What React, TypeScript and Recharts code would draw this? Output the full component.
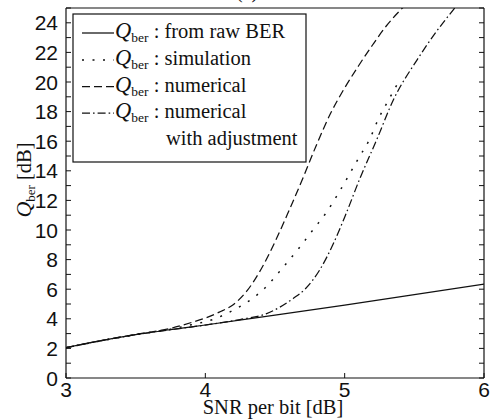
import React from 'react';
import { LineChart, Line, XAxis, YAxis } from 'recharts';

// SNR per bit [dB] / Q_ber [dB] readings
const snrRaw = [3, 3.25, 3.5, 3.75, 4, 4.5, 5, 5.5, 6];
const qRaw = [2.05, 2.52, 2.93, 3.27, 3.58, 4.25, 4.93, 5.63, 6.35];

const snrSim = [3, 3.5, 3.75, 3.9, 4.05, 4.2, 4.32, 4.44, 4.54, 4.68, 4.78, 4.87, 4.95, 5.03, 5.1, 5.18, 5.24, 5.31, 5.39];
const qSim = [2.05, 2.93, 3.3, 3.6, 3.94, 4.58, 5.25, 6.2, 7.28, 8.87, 10.1, 11.2, 12.4, 13.7, 14.86, 16.15, 17.46, 18.7, 20.05];

const snrNum = [3, 3.25, 3.5, 3.75, 3.9, 4.0, 4.1, 4.2, 4.3, 4.4, 4.5, 4.6, 4.7, 4.8, 4.9, 5.0, 5.1, 5.2, 5.3, 5.42];
const qNum = [2.05, 2.52, 2.95, 3.35, 3.75, 4.05, 4.45, 4.95, 5.9, 7.35, 9.2, 11.3, 13.5, 15.8, 17.9, 19.6, 21.1, 22.5, 23.8, 25.05];

const snrAdj = [3, 3.5, 4.0, 4.25, 4.44, 4.63, 4.72, 4.82, 4.92, 5.01, 5.11, 5.23, 5.35, 5.52, 5.65, 5.79];
const qAdj = [2.05, 2.93, 3.58, 3.95, 4.35, 5.37, 6.05, 7.29, 9.1, 11.1, 13.5, 16.1, 18.8, 21.5, 23.3, 25.0];

const xTicks = [3, 4, 5, 6];
const yTicks = Array.from({ length: 26 }, (_, i) => i);
const yLabelTicks = [0, 2, 4, 6, 8, 10, 12, 14, 16, 18, 20, 22, 24];

const legendTexts = ['from raw BER', 'simulation', 'numerical', 'numerical'];
const legendExtra = 'with adjustment';

const zip = (xs: number[], ys: number[]) => xs.map((x, i) => ({ x, y: ys[i] }));

const SANS = '"Liberation Sans", Arial, sans-serif';
const SERIF = '"Liberation Serif", "Times New Roman", serif';
const INK = '#111';

const LeftTick = (p: any) => {
  const { x, y, payload } = p;
  const v = payload.value;
  return (
    <g>
      <line x1={x} y1={y} x2={x + 5} y2={y} stroke={INK} strokeWidth={1} />
      {yLabelTicks.includes(v) ? (
        <text x={x - 8} y={y} dy="0.36em" textAnchor="end" fontFamily={SANS} fontSize={21} fill={INK}>
          {v}
        </text>
      ) : null}
    </g>
  );
};

const RightTick = (p: any) => {
  const { x, y } = p;
  return <line x1={x} y1={y} x2={x - 5} y2={y} stroke={INK} strokeWidth={1} />;
};

const BottomTick = (p: any) => {
  const { x, y, payload } = p;
  return (
    <g>
      <line x1={x} y1={y} x2={x} y2={y - 5} stroke={INK} strokeWidth={1} />
      <text x={x} y={y + 19} textAnchor="middle" fontFamily={SANS} fontSize={21} fill={INK}>
        {payload.value}
      </text>
    </g>
  );
};

const TopTick = (p: any) => {
  const { x, y } = p;
  return <line x1={x} y1={y} x2={x} y2={y + 5} stroke={INK} strokeWidth={1} />;
};

const dashStyles = ['', '2 8.5', '8 4', '8 3 1.6 3'];

export default function App() {
  const rowY = [38, 65, 91.5, 118];
  return (
    <div style={{ position: 'absolute', left: 0, top: 0 }}>
      <LineChart
        width={496}
        height={420}
        margin={{ top: 0, right: 0, bottom: 0, left: 0 }}
        style={{ background: '#fff' }}
      >
        <XAxis
          dataKey="x"
          type="number"
          domain={[3, 6]}
          ticks={xTicks}
          allowDataOverflow
          height={42}
          tickSize={0}
          tickMargin={0}
          tickLine={false}
          axisLine={{ stroke: INK, strokeWidth: 1.2 }}
          tick={<BottomTick />}
          interval={0}
        />
        <XAxis
          xAxisId="top"
          orientation="top"
          type="number"
          domain={[3, 6]}
          ticks={xTicks}
          allowDataOverflow
          height={8}
          tickSize={0}
          tickMargin={0}
          tickLine={false}
          axisLine={{ stroke: INK, strokeWidth: 1.2 }}
          tick={<TopTick />}
          interval={0}
        />
        <YAxis
          type="number"
          domain={[0, 25]}
          ticks={yTicks}
          allowDataOverflow
          width={66}
          tickSize={0}
          tickMargin={0}
          tickLine={false}
          axisLine={{ stroke: INK, strokeWidth: 1.2 }}
          tick={<LeftTick />}
          interval={0}
        />
        <YAxis
          yAxisId="r"
          orientation="right"
          type="number"
          domain={[0, 25]}
          ticks={yTicks}
          allowDataOverflow
          width={12}
          tickSize={0}
          tickMargin={0}
          tickLine={false}
          axisLine={{ stroke: INK, strokeWidth: 1.2 }}
          tick={<RightTick />}
          interval={0}
        />
        <Line data={zip(snrRaw, qRaw)} dataKey="y" type="monotone" stroke={INK} strokeWidth={1.2} dot={false} isAnimationActive={false} />
        <Line data={zip(snrSim, qSim)} dataKey="y" type="monotone" stroke={INK} strokeWidth={1.5} strokeDasharray={dashStyles[1]} dot={false} isAnimationActive={false} />
        <Line data={zip(snrNum, qNum)} dataKey="y" type="monotone" stroke={INK} strokeWidth={1.25} strokeDasharray={dashStyles[2]} dot={false} isAnimationActive={false} />
        <Line data={zip(snrAdj, qAdj)} dataKey="y" type="monotone" stroke={INK} strokeWidth={1.25} strokeDasharray={dashStyles[3]} dot={false} isAnimationActive={false} />

        <text x={247} y={-2} textAnchor="middle" fontFamily={SERIF} fontSize={20} fill={INK}>(a)</text>

        <text x={273} y={414} textAnchor="middle" fontFamily={SERIF} fontSize={20.5} fill={INK}>SNR per bit [dB]</text>

        <text transform="translate(31,180) rotate(-90)" textAnchor="middle" fontFamily={SERIF} fontSize={20.5} fill={INK}>
          <tspan fontStyle="italic" fontSize={22}>Q</tspan>
          <tspan fontSize={13} dy={4}>ber</tspan>
          <tspan dy={-4}> [dB]</tspan>
        </text>

        <g>
          <rect x={73} y={14} width={233} height={148} fill="#fff" stroke={INK} strokeWidth={1.2} />
          {legendTexts.map((t, i) => (
            <g key={i}>
              <line x1={82} x2={114} y1={rowY[i] - 5} y2={rowY[i] - 5} stroke={INK} strokeWidth={i === 1 ? 1.5 : 1.25} strokeDasharray={dashStyles[i] || undefined} />
              <text x={115} y={rowY[i]} fontFamily={SERIF} fontSize={20.5} fill={INK}>
                <tspan fontStyle="italic" fontSize={22.5}>Q</tspan>
                <tspan fontSize={13.5} dy={4}>ber</tspan>
                <tspan dy={-4}> : {t}</tspan>
              </text>
            </g>
          ))}
          <text x={166} y={145} fontFamily={SERIF} fontSize={20.5} fill={INK}>{legendExtra}</text>
        </g>
      </LineChart>
    </div>
  );
}
